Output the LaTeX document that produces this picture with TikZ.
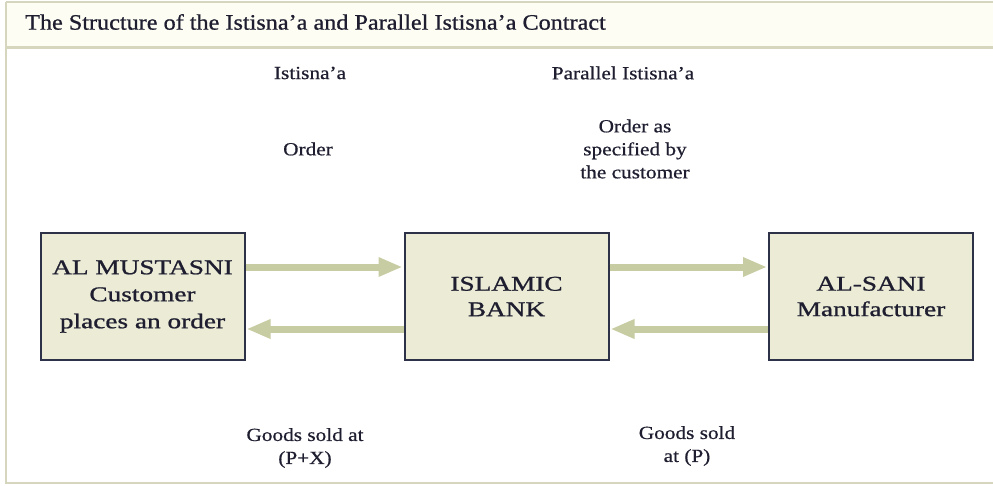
\documentclass[tikz,border=0pt]{standalone}
\usepackage{fontspec}
\setmainfont{Liberation Serif}[FakeStretch=1.15,FakeBold=0.6]
\newfontfamily\boxfont{Liberation Serif}[FakeStretch=1.3,FakeBold=1.0]
\newfontfamily\titlefont{Liberation Serif}[FakeStretch=1.1,FakeBold=0.8]
\usetikzlibrary{arrows.meta}
\definecolor{boxfill}{RGB}{235,235,214}
\definecolor{boxline}{RGB}{45,50,72}
\definecolor{arrowcol}{RGB}{200,204,162}
\definecolor{framecol}{RGB}{214,214,190}
\definecolor{titlebg}{RGB}{253,253,244}
\definecolor{txt}{RGB}{30,30,48}
\tikzset{
  party/.style={draw=boxline, line width=2pt, fill=boxfill, minimum width=204pt,
    minimum height=127pt, inner sep=0pt, align=center, text=txt,
    font=\boxfont\fontsize{21}{27}\selectfont},
  flow/.style={draw=arrowcol, line width=7pt,
    -{Triangle[length=24pt,width=18pt,fill=arrowcol]}, shorten >=1pt},
  lbl/.style={align=center, text=txt, inner sep=0pt,
    font=\fontsize{18.5}{23}\selectfont},
}
\begin{document}
\begin{tikzpicture}[x=1pt,y=-1pt]
\useasboundingbox (0,0) rectangle (993,485);
\fill[white] (0,0) rectangle (993,485);
% frame
\fill[titlebg] (6,2) rectangle (993,47);
\draw[framecol, line width=1.5pt] (6,2) -- (993,2);
\draw[framecol, line width=2.5pt] (6,47.5) -- (993,47.5);
\draw[framecol, line width=1.5pt] (6,2) -- (6,483) -- (993,483);
\node[anchor=west, text=txt, inner sep=0pt, font=\titlefont\fontsize{22}{26}\selectfont] (title) at (25,22) {The Structure of the Istisna’a and Parallel Istisna’a Contract};
% parties
\node[party] (cust) at (142.5,296.5) {AL MUSTASNI\\Customer\\places an order};
\node[party, font=\boxfont\fontsize{21}{25.5}\selectfont] (bank) at (506.5,296.5) {ISLAMIC\\BANK};
\node[party, font=\boxfont\fontsize{21}{25.5}\selectfont] (manu) at (871,296.5) {AL-SANI\\Manufacturer};
% connectors
\draw[flow] ([yshift=29.5pt]cust.east) -- ([yshift=29.5pt]bank.west);
\draw[flow] ([yshift=-32.5pt]bank.west) -- ([yshift=-32.5pt]cust.east);
\draw[flow] ([yshift=29.5pt]bank.east) -- ([yshift=29.5pt]manu.west);
\draw[flow] ([yshift=-32.5pt]manu.west) -- ([yshift=-32.5pt]bank.east);
% labels
\node[lbl] (l1) at (310,73) {Istisna’a};
\node[lbl] (l2) at (623,73) {Parallel Istisna’a};
\node[lbl] (l3) at (308,149) {Order};
\node[lbl] (l4) at (635,149) {Order as\\specified by\\the customer};
\node[lbl] (l5) at (305,448) {Goods sold at\\(P+X)};
\node[lbl] (l6) at (687,446) {Goods sold\\at (P)};
\end{tikzpicture}
\end{document}
